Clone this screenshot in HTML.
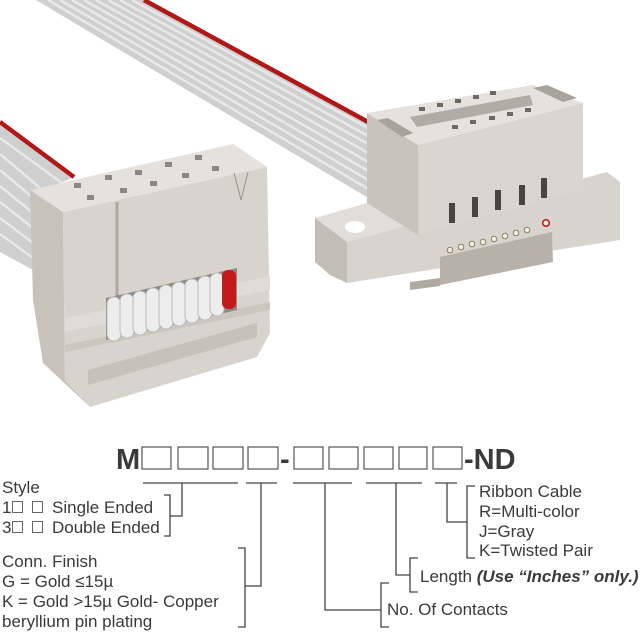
<!DOCTYPE html>
<html><head><meta charset="utf-8"><style>
html,body{margin:0;padding:0;background:#fff;}
svg{display:block}
text{font-family:"Liberation Sans",Arial,sans-serif;fill:#3a3a3a;}
</style></head><body>
<svg width="640" height="640" viewBox="0 0 640 640" xmlns="http://www.w3.org/2000/svg">
<!-- upper ribbon -->
<polygon points="36,0 145,0 370,122 370,199" fill="#cfcfcf"/>
<g stroke="#e8e8e8" stroke-width="2.5">
<line x1="48" y1="0" x2="370" y2="190"/><line x1="60" y1="0" x2="370" y2="181"/>
<line x1="72" y1="0" x2="370" y2="172"/><line x1="84" y1="0" x2="370" y2="163"/>
<line x1="96" y1="0" x2="370" y2="154"/><line x1="108" y1="0" x2="370" y2="145"/>
<line x1="120" y1="0" x2="370" y2="137"/><line x1="132" y1="0" x2="370" y2="129"/>
</g>
<line x1="144" y1="0" x2="370" y2="123" stroke="#b01818" stroke-width="4.5"/>
<!-- left ribbon -->
<polygon points="0,120 76,176 33,195 33,270 0,252" fill="#cfcfcf"/>
<g stroke="#e8e8e8" stroke-width="2.5">
<line x1="0" y1="138" x2="62" y2="183"/><line x1="0" y1="154" x2="40" y2="188"/>
<line x1="0" y1="170" x2="33" y2="198"/><line x1="0" y1="186" x2="33" y2="213"/>
<line x1="0" y1="202" x2="33" y2="228"/><line x1="0" y1="218" x2="33" y2="243"/>
<line x1="0" y1="234" x2="33" y2="258"/>
</g>
<line x1="0" y1="122" x2="74" y2="177" stroke="#b01818" stroke-width="4.5"/>
<!-- left connector -->
<polygon points="30,190 63,212 65,380 90,407 43,363 33,300" fill="#c9c2bb"/>
<polygon points="30,190 233,144 267,167 63,212" fill="#e6e1dc"/>
<polygon points="63,212 267,167 270,333 257,357 90,407 65,380" fill="#d9d3cd"/>
<line x1="117" y1="202" x2="117" y2="298" stroke="#aea7a0" stroke-width="3"/>
<polygon points="65,318 270,276 270,290 65,332" fill="#e0dbd6"/>
<polygon points="65,345 270,302 270,310 65,352" fill="#cdc6bf"/>
<polygon points="88,370 257,323 257,337 88,385" fill="#c8c1ba"/>
<polygon points="106,298 237,268 237,310 106,340" fill="#8f8983"/>
<g fill="#ededed" stroke="#bcbcbc" stroke-width="1">
<rect x="107" y="297" width="14" height="44" rx="7"/><rect x="120" y="294" width="14" height="44" rx="7"/>
<rect x="133" y="291" width="14" height="44" rx="7"/><rect x="146" y="288" width="14" height="44" rx="7"/>
<rect x="159" y="285" width="14" height="44" rx="7"/><rect x="172" y="282" width="14" height="44" rx="7"/>
<rect x="185" y="279" width="14" height="44" rx="7"/><rect x="198" y="276" width="14" height="44" rx="7"/>
<rect x="210" y="273" width="14" height="43" rx="7"/>
</g>
<rect x="222" y="270" width="14" height="39" rx="6" fill="#c31b1b"/>
<g fill="#8e8780">
<rect x="74" y="183" width="7" height="5"/><rect x="105" y="175" width="7" height="5"/><rect x="135" y="170" width="7" height="5"/><rect x="165" y="162" width="7" height="5"/><rect x="195" y="155" width="7" height="5"/>
<rect x="87" y="195" width="7" height="5"/><rect x="120" y="188" width="7" height="5"/><rect x="150" y="181" width="7" height="5"/><rect x="182" y="173" width="7" height="5"/><rect x="212" y="166" width="7" height="5"/>
</g>
<polyline points="234,173 241,200 248,172" fill="none" stroke="#9a938c" stroke-width="1"/>
<!-- right connector flange -->
<polygon points="315,218 367,203 410,227 347,242" fill="#e2ddd8"/>
<polygon points="315,218 347,242 347,283 330,275 315,262" fill="#c4bdb6"/>
<polygon points="347,242 607,172 620,182 620,240 347,283" fill="#d9d3cd"/>
<ellipse cx="355" cy="227" rx="10" ry="6" fill="#fff"/>
<polygon points="410,282 440,278 440,286 410,290" fill="#b0a9a2"/>
<polygon points="440,257 552,232 553,262 440,285" fill="#b8b1aa"/>
<!-- body -->
<polygon points="367,113 418,145 418,235 367,203" fill="#cac3bc"/>
<polygon points="367,113 533,85 583,103 418,145" fill="#e6e1dc"/>
<polygon points="418,145 583,103 583,190 560,196 418,235" fill="#dbd5cf"/>
<polygon points="410,117 530,95 533,105 417,127" fill="#b3aca5"/>
<polygon points="377,120 388,118 413,133 402,137" fill="#aaa39c"/>
<polygon points="533,88 547,85 577,98 563,102" fill="#aaa39c"/>
<g fill="#6e6862">
<rect x="419" y="107" width="6" height="4"/><rect x="437" y="103" width="6" height="4"/><rect x="455" y="99" width="6" height="4"/><rect x="473" y="95" width="6" height="4"/><rect x="490" y="91" width="6" height="4"/>
<rect x="452" y="125" width="6" height="4"/><rect x="470" y="120" width="6" height="4"/><rect x="489" y="116" width="6" height="4"/><rect x="507" y="112" width="6" height="4"/><rect x="525" y="108" width="6" height="4"/>
</g>
<g fill="#4a4540">
<rect x="449" y="203" width="6" height="20"/><rect x="472" y="197" width="6" height="20"/><rect x="495" y="190" width="6" height="20"/><rect x="519" y="185" width="6" height="20"/><rect x="541" y="178" width="6" height="20"/>
</g>
<g fill="#f2ecd8" stroke="#8a8070" stroke-width="1">
<circle cx="450" cy="250" r="2.8"/><circle cx="461" cy="247" r="2.8"/><circle cx="472" cy="244" r="2.8"/><circle cx="483" cy="242" r="2.8"/><circle cx="494" cy="239" r="2.8"/><circle cx="505" cy="236" r="2.8"/><circle cx="516" cy="233" r="2.8"/><circle cx="527" cy="230" r="2.8"/>
</g>
<circle cx="546" cy="223" r="3.3" fill="#f2ecd8" stroke="#c21818" stroke-width="1.5"/>
<!-- part number -->
<text x="116" y="469" font-size="29" font-weight="bold">M</text>
<g fill="none" stroke="#555" stroke-width="1.2">
<rect x="142" y="447" width="29" height="22"/><rect x="178" y="447" width="30" height="22"/><rect x="213" y="447" width="30" height="22"/><rect x="248" y="447" width="30" height="22"/>
<rect x="294" y="447" width="29" height="22"/><rect x="329" y="447" width="29" height="22"/><rect x="364" y="447" width="29" height="22"/><rect x="399" y="447" width="28" height="22"/><rect x="433" y="447" width="29" height="22"/>
</g>
<text x="280" y="469" font-size="29" font-weight="bold">-</text>
<text x="464" y="469" font-size="29" font-weight="bold">-ND</text>
<g fill="none" stroke="#444" stroke-width="1.3">
<line x1="143" y1="483" x2="238" y2="483"/><line x1="246" y1="483" x2="277" y2="483"/><line x1="293" y1="483" x2="352" y2="483"/><line x1="366" y1="483" x2="422" y2="483"/><line x1="435" y1="483" x2="457" y2="483"/>
<polyline points="182,483 182,516 170,516"/><polyline points="164,495 170,495 170,536 164,536"/>
<polyline points="261,483 261,586 245,586"/><polyline points="238,548 245,548 245,627 238,627"/>
<polyline points="325,483 325,610 381,610"/><polyline points="389,583 381,583 381,627 389,627"/>
<polyline points="396,483 396,575 410,575"/><polyline points="418,558 410,558 410,592 418,592"/>
<polyline points="447,483 447,522 467,522"/><polyline points="475,486 467,486 467,558 475,558"/>
</g>
<g font-size="17">
<text x="2" y="493">Style</text>
<text x="2" y="513">1</text><text x="52" y="513">Single Ended</text>
<text x="2" y="533">3</text><text x="52" y="533">Double Ended</text>
<text x="2" y="567">Conn. Finish</text>
<text x="2" y="587">G = Gold ≤15µ</text>
<text x="2" y="607">K = Gold &gt;15µ Gold- Copper</text>
<text x="2" y="627">beryllium pin plating</text>
<text x="479" y="497">Ribbon Cable</text>
<text x="479" y="517">R=Multi-color</text>
<text x="479" y="537">J=Gray</text>
<text x="479" y="556">K=Twisted Pair</text>
<text x="420" y="582">Length <tspan font-weight="bold" font-style="italic">(Use “Inches” only.)</tspan></text>
<text x="387" y="615">No. Of Contacts</text>
</g>
<g fill="none" stroke="#666" stroke-width="1">
<rect x="12.5" y="501.5" width="10" height="11"/><rect x="32.5" y="501.5" width="10" height="11"/>
<rect x="12.5" y="521.5" width="10" height="11"/><rect x="32.5" y="521.5" width="10" height="11"/>
</g>
</svg>
</body></html>
